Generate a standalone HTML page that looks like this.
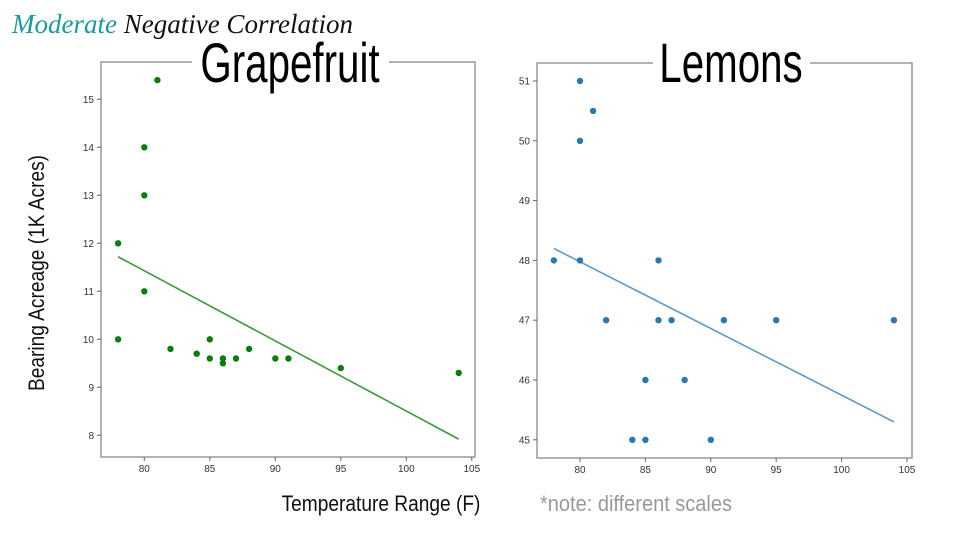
<!DOCTYPE html>
<html><head><meta charset="utf-8"><style>
html,body{margin:0;padding:0;background:#fff;}
svg{display:block;font-family:"Liberation Sans",sans-serif;}
</style></head><body>
<svg id="s" width="960" height="540" viewBox="0 0 960 540">
<text x="12" y="33" font-family="Liberation Serif" font-style="italic" font-size="27"><tspan fill="#1a9aa0">Moderate</tspan><tspan fill="#111"> Negative Correlation</tspan></text>
<text transform="translate(44,273) rotate(-90) scale(0.87,1)" text-anchor="middle" font-size="22" fill="#111">Bearing Acreage (1K Acres)</text>
<text transform="translate(381,511) scale(0.87,1)" text-anchor="middle" font-size="22" fill="#111">Temperature Range (F)</text>
<text transform="translate(636,511) scale(0.91,1)" text-anchor="middle" font-size="22" fill="#999">*note: different scales</text>
<g id="c1"></g><g id="c2"></g>
</svg>
<script>
const gfX=[78,78,80,80,80,81,82,84,85,85,86,86,87,88,90,91,95,104];
const gfY=[12,10,14,13,11,15.4,9.8,9.7,10,9.6,9.6,9.5,9.6,9.8,9.6,9.6,9.4,9.3];
const gfFit=[[78,11.72],[104,7.92]];
const gfYTicks=[8,9,10,11,12,13,14,15];
const lmX=[78,80,80,80,81,82,84,85,85,86,86,87,88,90,91,95,104];
const lmY=[48,51,50,48,50.5,47,45,46,45,48,47,47,46,45,47,47,47];
const lmFit=[[78,48.2],[104,45.3]];
const lmYTicks=[45,46,47,48,49,50,51];
const xTicks=[80,85,90,95,100,105];
const NS="http://www.w3.org/2000/svg";
function mk(p,t,a){const e=document.createElementNS(NS,t);for(const k in a)e.setAttribute(k,a[k]);p.appendChild(e);return e;}
function chart(g,o){
  const sx=v=>o.x0+(v-80)*o.kx, sy=v=>o.y0-(v-o.yb)*o.ky;
  const box=mk(g,'rect',{x:o.L,y:o.T,width:o.R-o.L,height:o.B-o.T,fill:'none',stroke:'#999','stroke-width':1.5});
  
  
  xTicks.forEach(v=>{
    mk(g,'line',{x1:sx(v),x2:sx(v),y1:o.B,y2:o.B+4,stroke:'#666'});
    const t=mk(g,'text',{x:sx(v),y:o.B+15,'text-anchor':'middle','font-size':10,fill:'#333'});t.textContent=v;
    
    
  });
  o.yt.forEach(v=>{
    mk(g,'line',{x1:o.L-4,x2:o.L,y1:sy(v),y2:sy(v),stroke:'#666'});
    const t=mk(g,'text',{x:o.L-7,y:sy(v)+3.5,'text-anchor':'end','font-size':10,fill:'#333'});t.textContent=v;
    
    
  });
  const ln=mk(g,'line',{x1:sx(o.fit[0][0]),y1:sy(o.fit[0][1]),x2:sx(o.fit[1][0]),y2:sy(o.fit[1][1]),stroke:o.lc,'stroke-width':1.6});
  
  
  o.xs.forEach((x,i)=>{
    const c=mk(g,'circle',{cx:sx(x),cy:sy(o.ys[i]),r:3.2,fill:o.pc});
    
    
  });
  mk(g,'rect',{x:o.tw[0],y:o.T-3,width:o.tw[1]-o.tw[0],height:8,fill:'#fff'});
  const tt=mk(g,'text',{transform:'translate('+o.tc+',82) scale(0.72,1)','text-anchor':'middle','font-size':56,fill:'#000'});
  tt.textContent=o.title;
  
  
}
chart(document.getElementById('c1'),{name:'grapefruit',title:'Grapefruit',L:101,R:475,T:62,B:457,x0:144.3,kx:13.1,y0:99.3,yb:15,ky:48,yt:gfYTicks,xs:gfX,ys:gfY,fit:gfFit,pc:'#0a7d0a',lc:'#3a9a3a',tw:[192,389],tc:290});
chart(document.getElementById('c2'),{name:'lemons',title:'Lemons',L:537,R:912,T:63,B:458,x0:580,kx:13.08,y0:81,yb:51,ky:59.8,yt:lmYTicks,xs:lmX,ys:lmY,fit:lmFit,pc:'#2a78b0',lc:'#5a9ac8',tw:[653,810],tc:731});
</script>
</body></html>
